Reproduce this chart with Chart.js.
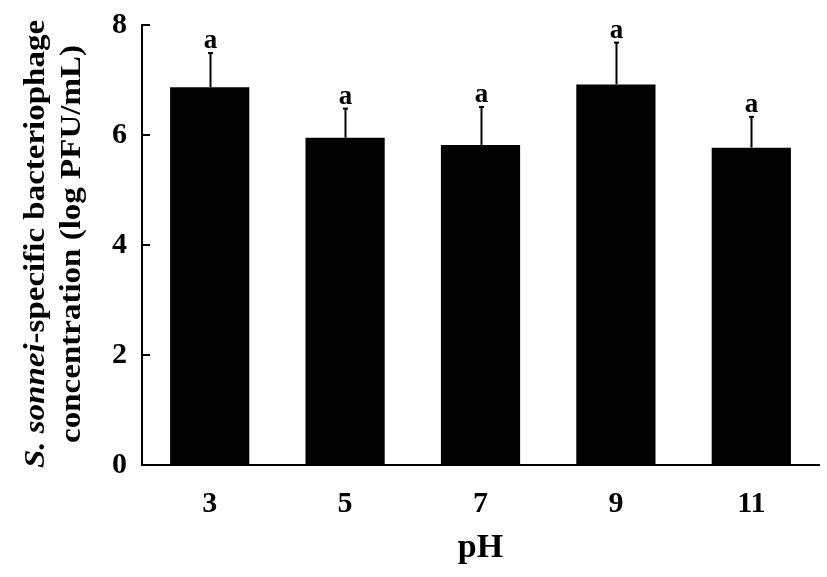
<!DOCTYPE html>
<html><head><meta charset="utf-8">
<script src="https://cdn.jsdelivr.net/npm/chart.js@4"></script>
<style>html,body{margin:0;padding:0;background:#fff}#wrap{width:827px;height:577px;position:relative}</style>
</head><body><div id="wrap"><canvas id="c"></canvas></div>
<script>
const categories = ['3', '5', '7', '9', '11'];
const means = [6.87, 5.95, 5.82, 6.92, 5.77];
const errors = [0.62, 0.53, 0.69, 0.76, 0.56];
const letters = ['a', 'a', 'a', 'a', 'a'];
const yTicks = [0, 2, 4, 6, 8];
const xTitle = 'pH';
const yTitleParts = [['S. ', 'italic bold'], ['sonnei', 'italic bold'], ['-specific bacteriophage', 'bold']];
const yTitleLine2 = 'concentration (log PFU/mL)';

const SERIF = '"Liberation Serif", "Times New Roman", serif';

const overlay = {
  id: 'overlay',
  afterDraw(chart) {
    const { ctx, scales: { x, y }, chartArea } = chart;
    ctx.save();
    ctx.strokeStyle = '#000';
    ctx.fillStyle = '#000';
    ctx.lineWidth = 2;
    // inner y ticks
    yTicks.forEach(v => {
      const py = Math.round(y.getPixelForValue(v));
      ctx.beginPath();
      ctx.moveTo(chartArea.left, py);
      ctx.lineTo(chartArea.left + 8, py);
      ctx.stroke();
    });
    // error bars and letters
    means.forEach((m, i) => {
      const px = Math.round(x.getPixelForValue(i)) + 0.5;
      const base = y.getPixelForValue(m);
      const top = y.getPixelForValue(m + errors[i]);
      ctx.lineWidth = 2;
      ctx.beginPath();
      ctx.moveTo(px, base);
      ctx.lineTo(px, top);
      ctx.stroke();
      ctx.beginPath();
      ctx.moveTo(px - 2.5, top);
      ctx.lineTo(px + 2.5, top);
      ctx.stroke();
      ctx.font = 'bold 27px ' + SERIF;
      ctx.textAlign = 'center';
      ctx.textBaseline = 'alphabetic';
      ctx.fillText(letters[i], px, top - 5);
    });
    // x title
    ctx.font = 'bold 34px ' + SERIF;
    ctx.textAlign = 'center';
    ctx.textBaseline = 'middle';
    ctx.fillText(xTitle, (chartArea.left + chartArea.right) / 2, 548);
    // y title (rotated)
    const cy = 244;
    ctx.save();
    ctx.translate(36, cy);
    ctx.rotate(-Math.PI / 2);
    ctx.scale(1, 0.9);
    ctx.textBaseline = 'middle';
    ctx.textAlign = 'left';
    let total = 0;
    yTitleParts.forEach(([t, f]) => { ctx.font = f + ' 33px ' + SERIF; total += ctx.measureText(t).width; });
    let cx = -total / 2;
    yTitleParts.forEach(([t, f]) => {
      ctx.font = f + ' 33px ' + SERIF;
      ctx.fillText(t, cx, 0);
      cx += ctx.measureText(t).width;
    });
    ctx.restore();
    ctx.save();
    ctx.translate(72, cy);
    ctx.rotate(-Math.PI / 2);
    ctx.scale(1, 0.9);
    ctx.textBaseline = 'middle';
    ctx.textAlign = 'center';
    ctx.font = 'bold 33px ' + SERIF;
    ctx.fillText(yTitleLine2, 0, 0);
    ctx.restore();
    ctx.restore();
  }
};

new Chart(document.getElementById('c'), {
  type: 'bar',
  data: {
    labels: categories,
    datasets: [{
      data: means,
      backgroundColor: '#000',
      borderWidth: 0,
      categoryPercentage: 1,
      barPercentage: 0.585
    }]
  },
  options: {
    responsive: true,
    maintainAspectRatio: false,
    animation: false,
    layout: { padding: { left: 0, right: 8, top: 25, bottom: 0 } },
    plugins: { legend: { display: false }, tooltip: { enabled: false }, title: { display: false } },
    scales: {
      x: {
        grid: { display: false, drawTicks: false },
        border: { display: true, color: '#000', width: 2 },
        ticks: { color: '#000', padding: 21, font: { family: SERIF, size: 30, weight: 'bold' } },
        afterFit: s => { s.height = 112; s.paddingLeft = 0; s.paddingRight = 0; }
      },
      y: {
        min: 0, max: 8,
        afterBuildTicks: s => { s.ticks = yTicks.map(v => ({ value: v })); },
        grid: { display: false, drawTicks: false },
        border: { display: true, color: '#000', width: 2 },
        ticks: { color: '#000', padding: 15, font: { family: SERIF, size: 30, weight: 'bold' } },
        afterFit: s => { s.width = 142; s.paddingTop = 0; s.paddingBottom = 0; }
      }
    }
  },
  plugins: [overlay]
});
</script></body></html>
